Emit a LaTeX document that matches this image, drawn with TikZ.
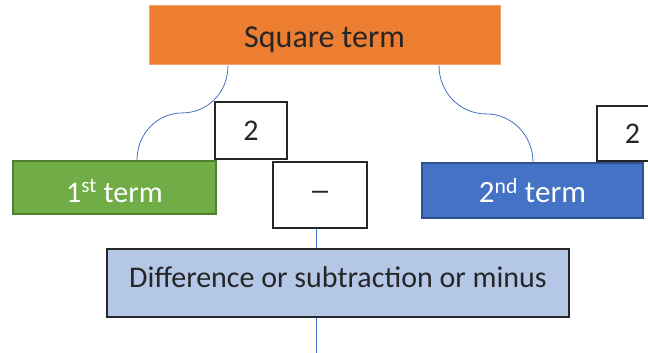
\documentclass[tikz,border=0pt]{standalone}
\usepackage{fontspec}
\setmainfont{Carlito}
\usetikzlibrary{calc}
\definecolor{sqorange}{HTML}{ED7D31}
\definecolor{sqorangeb}{HTML}{F4A070}
\definecolor{tgreen}{HTML}{70AD47}
\definecolor{tgreenb}{HTML}{507E32}
\definecolor{tblue}{HTML}{4472C4}
\definecolor{tblueb}{HTML}{2F528F}
\definecolor{lblue}{HTML}{B4C7E7}
\definecolor{dk}{HTML}{262626}
\begin{document}
\begin{tikzpicture}[x=1pt,y=-1pt,
  box/.style={draw, inner sep=0pt, font=\fontsize{30}{34}\selectfont},
  wbox/.style={box, fill=white, draw=dk, line width=1.4pt, text=dk},
  conn/.style={draw=tblue, line width=0.8pt}]
\clip (0,0) rectangle (648,353);
\fill[white] (0,0) rectangle (648,353);
\node[box, fill=sqorange, draw=sqorangeb, line width=1pt, minimum width=351pt, minimum height=59pt, text=dk, font=\fontsize{32}{36}\selectfont, text height=31pt, text depth=7pt] (sq) at (324.5,35.5) {Square term};
\node[box, fill=tgreen, draw=tgreenb, line width=1.4pt, minimum width=203pt, minimum height=53pt, text=white, text height=29pt, text depth=0pt] (t1) at (114.5,187.5) {1\textsuperscript{st} term};
\node[box, fill=tblue, draw=tblueb, line width=1.4pt, minimum width=221pt, minimum height=55pt, text=white, font=\fontsize{31}{34}\selectfont, text height=24pt, text depth=0pt] (t2) at (532.5,190.5) {2\textsuperscript{nd} term};
\node[wbox, minimum width=72pt, minimum height=57pt] (p1) at (251,130.5) {2\hspace{14pt}};
\node[wbox, minimum width=71pt, minimum height=55pt] (p2) at (632.5,133.5) {2\hspace{14pt}};
\node[wbox, minimum width=94pt, minimum height=66pt] (mn) at (320,195) {\fontsize{22}{22}\selectfont\bfseries —};
\node[box, fill=lblue, draw=dk, line width=1.5pt, minimum width=462pt, minimum height=68pt, text=dk, text height=22pt, text depth=14pt] (df) at (338,283) {Difference or subtraction or minus};
\coordinate (e) at (316,353);
% connectors
\coordinate (a1) at ([xshift=-96.5pt]sq.south);
\coordinate (b1) at ([xshift=22.5pt]t1.north);
\coordinate (m1) at ($(a1)!0.5!(b1)$);
\draw[conn] (a1) .. controls +(0,27) and +(25,0) .. (m1) .. controls +(-25,0) and +(0,-27) .. (b1);
\coordinate (a2) at ([xshift=114.5pt]sq.south);
\coordinate (b2) at ([xshift=0.5pt]t2.north);
\coordinate (m2) at ($(a2)!0.5!(b2)$);
\draw[conn] (a2) .. controls +(0,27) and +(-26,0) .. (m2) .. controls +(26,0) and +(0,-27) .. (b2);
\draw[conn] ([xshift=-4pt]mn.south) -- ([xshift=-4pt]mn.south |- df.north);
\draw[conn] (df.south -| e) -- (e);
\end{tikzpicture}
\end{document}
